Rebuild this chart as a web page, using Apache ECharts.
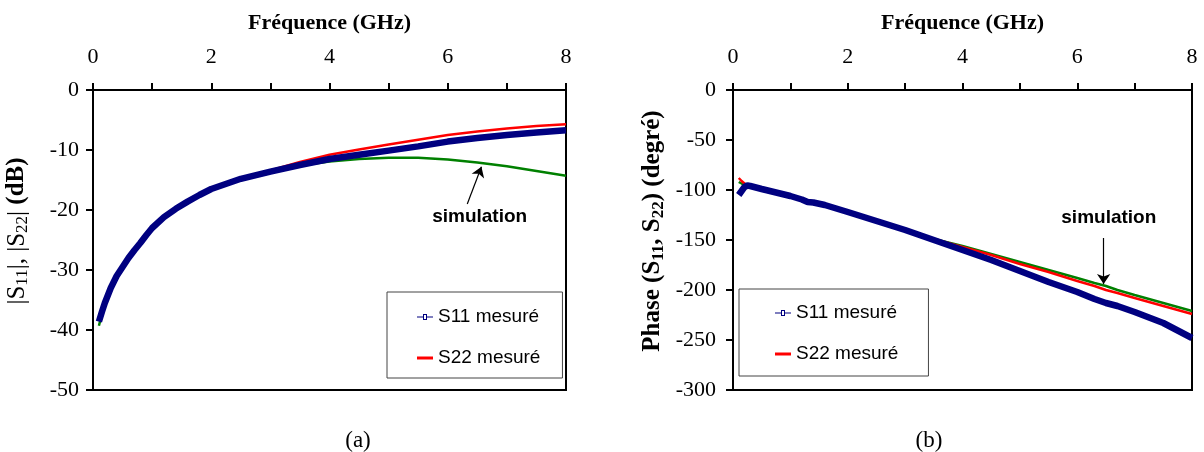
<!DOCTYPE html>
<html>
<head>
<meta charset="utf-8">
<script src="https://cdn.jsdelivr.net/npm/echarts@6/dist/echarts.min.js"></script>
<style>
html,body{margin:0;padding:0;background:#fff;}
#chart{width:1204px;height:452px;}
</style>
</head>
<body>
<div id="chart"></div>
<script>
// ---------- data: (a) magnitude ----------
var freqA = [0.1,0.15,0.2,0.3,0.4,0.5,0.6,0.7,0.8,0.9,1.0,1.2,1.4,1.6,1.8,2.0,2.5,3.0,3.5,4.0,4.5,5.0,5.5,6.0,6.5,7.0,7.5,8.0];
var s11dB = [-38.6,-37,-35.5,-33,-31,-29.5,-28,-26.7,-25.5,-24.2,-23.0,-21.2,-19.8,-18.6,-17.5,-16.5,-14.8,-13.6,-12.5,-11.5,-10.8,-10.1,-9.4,-8.6,-8.0,-7.5,-7.1,-6.7];
var s22dB = [-37.8,-36.8,-35.3,-32.9,-30.9,-29.4,-27.9,-26.6,-25.4,-24.1,-22.9,-21.1,-19.7,-18.5,-17.4,-16.4,-14.7,-13.4,-12.0,-10.8,-9.9,-9.1,-8.3,-7.5,-6.9,-6.4,-6.0,-5.7];
var simdB = [-39.3,-37.4,-35.7,-33.1,-31.1,-29.6,-28.1,-26.8,-25.6,-24.3,-23.1,-21.3,-19.9,-18.7,-17.6,-16.6,-14.9,-13.7,-12.6,-11.9,-11.5,-11.3,-11.3,-11.6,-12.1,-12.7,-13.5,-14.3];

// ---------- data: (b) phase ----------
var freqB = [0.1,0.15,0.2,0.25,0.3,0.5,0.75,1.0,1.2,1.3,1.4,1.6,2.0,2.5,3.0,3.5,4.0,4.5,5.0,5.5,6.0,6.3,6.5,6.7,7.0,7.5,8.0];
var s11Ph = [-105,-101,-97,-95.5,-96,-99,-102.5,-106,-109.5,-112,-112.5,-115,-122,-131,-140,-150,-160,-170,-181,-192,-202,-209,-213,-216,-222,-233,-248];
var s22Ph = [-88,-91,-93.5,-95,-96,-99,-102.5,-106,-109.5,-111.5,-112.5,-115,-122,-131,-140,-149,-157,-165,-174,-182,-191,-196,-200,-203,-208,-216,-224];
var simPh = [-92,-93.5,-94.5,-95.5,-96,-99,-102.5,-106,-109.5,-111.5,-112.5,-115,-122,-131,-140,-149,-156,-164,-172,-180,-188,-193,-196,-200,-205,-213,-221];

// ---------- tick / label texts ----------
var xTitle = 'Fréquence (GHz)';
var seriesNames = ['S11 mesuré', 'S22 mesuré', 'simulation'];
var annotText = 'simulation';
var panelLabels = ['(a)', '(b)'];

function pairs(xs, ys){ return xs.map(function(x,i){ return [x, ys[i]]; }); }

var SERIF = 'Liberation Serif';
var SANS = 'Liberation Sans';
var NAVY = '#000080', RED = '#ff0000', GREEN = '#008000';

var S11_ICON = 'path://M0,3 L6,3 L6,0.5 L10,0.5 L10,3 L16,3 L16,4 L10,4 L10,6.5 L6,6.5 L6,4 L0,4 Z M7,1.5 L7,5.5 L9,5.5 L9,1.5 Z';
var S22_ICON = 'path://M0,2 L16,2 L16,5 L0,5 Z';

function xAxisCfg(gi){
  return {
    type:'value', gridIndex:gi, position:'top', min:0, max:8, interval:2,
    name:xTitle, nameLocation:'middle', nameGap:56,
    nameTextStyle:{fontFamily:SERIF, fontSize:22, fontWeight:'bold', color:'#000'},
    axisLine:{show:true, lineStyle:{color:'#000', width:2}},
    axisTick:{show:true, inside:false, length:7, lineStyle:{color:'#000', width:2}},
    minorTick:{show:true, splitNumber:2, length:7, lineStyle:{color:'#000', width:2}},
    axisLabel:{fontFamily:SERIF, fontSize:22, color:'#000', margin:22},
    splitLine:{show:false}
  };
}
function yAxisCfg(gi, min, interval, name, rich, gap, margin){
  return {
    type:'value', gridIndex:gi, min:min, max:0, interval:interval,
    name:name, nameLocation:'middle', nameGap:gap, nameRotate:90,
    nameTextStyle:{rich:rich, padding:[0,0,0,18]},
    axisLine:{show:true, lineStyle:{color:'#000', width:2}},
    axisTick:{show:true, inside:false, length:7, lineStyle:{color:'#000', width:2}},
    axisLabel:{fontFamily:SERIF, fontSize:22, color:'#000', margin:margin},
    splitLine:{show:false}
  };
}

var richA = {
  n:{fontFamily:SERIF, fontSize:25, color:'#000', lineHeight:28, verticalAlign:'middle'},
  s:{fontFamily:SERIF, fontSize:17, color:'#000', lineHeight:16, verticalAlign:'bottom'},
  b:{fontFamily:SERIF, fontSize:25, fontWeight:'bold', color:'#000', lineHeight:28, verticalAlign:'middle'}
};
var richB = {
  b:{fontFamily:SERIF, fontSize:25, fontWeight:'bold', color:'#000', lineHeight:28, verticalAlign:'middle'},
  s:{fontFamily:SERIF, fontSize:17, fontWeight:'bold', color:'#000', lineHeight:16, verticalAlign:'bottom'}
};

function annot(arrowFrom, arrowTo, textAt){
  return {
    markLine:{
      silent:true, animation:false, symbol:['none','arrow'], symbolSize:10,
      label:{show:false},
      lineStyle:{color:'#000', width:1.2, type:'solid'},
      emphasis:{disabled:true},
      data:[[{coord:arrowFrom},{coord:arrowTo}]]
    },
    markPoint:{
      silent:true, animation:false, symbol:'rect', symbolSize:1,
      itemStyle:{color:'rgba(0,0,0,0)'},
      label:{show:true, position:'inside', formatter:annotText, fontFamily:SANS, fontSize:19, fontWeight:'bold', color:'#000'},
      data:[{coord:textAt}]
    }
  };
}

function lineSeries(name, xi, yi, data, color, width, extra){
  var s = {
    name:name, type:'line', xAxisIndex:xi, yAxisIndex:yi, data:data,
    showSymbol:false, symbol:'none', smooth:false, animation:false,
    lineStyle:{color:color, width:width}, itemStyle:{color:color},
    emphasis:{disabled:true}, z:2
  };
  if (extra) for (var k in extra) s[k] = extra[k];
  return s;
}

var gridA = {left:93, top:90, width:473, height:300};
var gridB = {left:733, top:90, width:459, height:300};

var legendBase = {
  orient:'vertical', show:true, selectedMode:false,
  itemWidth:16, itemHeight:7, itemGap:21, symbolKeepAspect:true,
  borderColor:'#444', borderWidth:1, backgroundColor:'#fff',
  textStyle:{fontFamily:SANS, fontSize:19, color:'#000', lineHeight:20},
  itemStyle:{borderWidth:0},
  data:[{name:seriesNames[0], icon:S11_ICON},{name:seriesNames[1], icon:S22_ICON}]
};
var legendA = Object.assign({}, legendBase, {left:387, top:292, padding:[15,22,10,30]});
var legendB = Object.assign({}, legendBase, {left:739, top:289, padding:[14,30,12,36]});

var simA = lineSeries(seriesNames[2], 0, 0, pairs(freqA, simdB), GREEN, 2.5, annot([6.33,-19.0],[6.57,-12.8],[6.54,-21.2]));
var simB = lineSeries(seriesNames[2], 1, 1, pairs(freqB, simPh), GREEN, 2.5, annot([6.46,-148],[6.46,-194],[6.55,-128]));

var option = {
  backgroundColor:'#fff',
  animation:false,
  title:[
    {text:panelLabels[0], left:353, top:424, textAlign:'center', textStyle:{fontFamily:SERIF, fontSize:23, fontWeight:'normal', color:'#000'}},
    {text:panelLabels[1], left:924, top:424, textAlign:'center', textStyle:{fontFamily:SERIF, fontSize:23, fontWeight:'normal', color:'#000'}}
  ],
  legend:[legendA, legendB],
  grid:[
    Object.assign({show:true, borderColor:'#000', borderWidth:2, backgroundColor:'transparent'}, gridA),
    Object.assign({show:true, borderColor:'#000', borderWidth:2, backgroundColor:'transparent'}, gridB)
  ],
  xAxis:[xAxisCfg(0), xAxisCfg(1)],
  yAxis:[
    yAxisCfg(0, -50, 10, '{n||S}{s|11}{n||, |S}{s|22}{n|| }{b|(dB)}', richA, 62, 14),
    yAxisCfg(1, -300, 50, '{b|Phase (S}{s|11}{b|, S}{s|22}{b|) (degré)}', richB, 66, 17)
  ],
  series:[
    simA,
    lineSeries(seriesNames[1], 0, 0, pairs(freqA, s22dB), RED, 2.5),
    lineSeries(seriesNames[0], 0, 0, pairs(freqA, s11dB), NAVY, 6.5),
    simB,
    lineSeries(seriesNames[1], 1, 1, pairs(freqB, s22Ph), RED, 2.5),
    lineSeries(seriesNames[0], 1, 1, pairs(freqB, s11Ph), NAVY, 6.5)
  ]
};

var chart = echarts.init(document.getElementById('chart'), null, {renderer:'canvas'});
chart.setOption(option);
</script>
</body>
</html>
